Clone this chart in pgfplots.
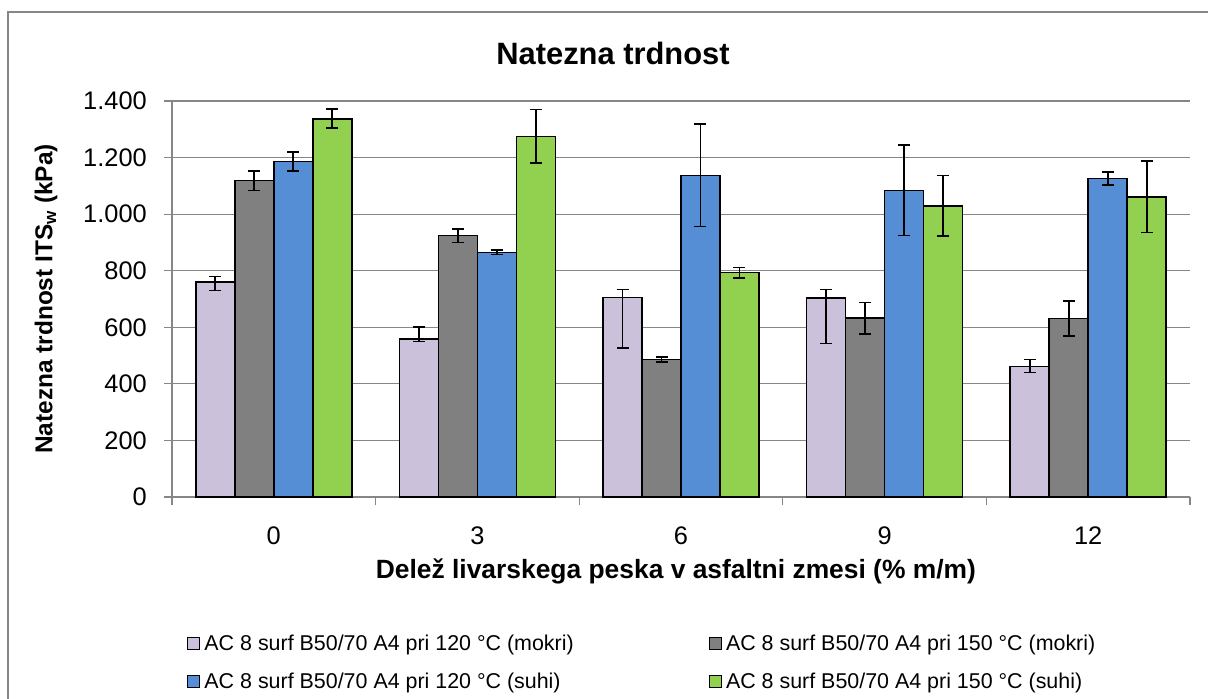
\documentclass[border=0pt]{standalone}
\usepackage{fontspec}
\setmainfont{Liberation Sans}
\usepackage{pgfplots}
\pgfplotsset{compat=1.18}
\usepackage{pgfplotstable}

\definecolor{cLav}{RGB}{204,193,218}
\definecolor{cGray}{RGB}{128,128,128}
\definecolor{cBlue}{RGB}{85,142,213}
\definecolor{cGreen}{RGB}{146,208,80}
\definecolor{cAxis}{RGB}{134,134,134}

\pgfplotstableread{
x y ep em
0 761 18 31
1 559 42 9
2 705 28 179
3 704 29 162
4 461 25 21
}\dataA
\pgfplotstableread{
x y ep em
0 1119 34 35
1 924 24 24
2 486 8 9
3 633 55 56
4 631 62 62
}\dataB
\pgfplotstableread{
x y ep em
0 1186 33 33
1 865 8 7
2 1136 182 179
3 1084 161 160
4 1126 22 22
}\dataC
\pgfplotstableread{
x y ep em
0 1337 35 33
1 1274 96 94
2 794 18 20
3 1028 108 106
4 1061 127 126
}\dataD

\pgfplotsset{
  every error bar/.append style={line width=1.8bp, draw=black},
  myerr/.style={
  error bars/y dir=both, error bars/y explicit,
  error bars/error bar style={line width=1.8bp, draw=black, solid},
  error bars/error mark options={rotate=90, mark size=6bp, line width=1.6bp, draw=black}}}

\begin{document}
\begin{tikzpicture}
\useasboundingbox (0,0) rectangle (1208bp,699bp);
\draw[cAxis, line width=1.5bp] (8bp,0) -- (8bp,687bp) -- (1208bp,687bp);
\node[font=\fontsize{31}{36}\selectfont\bfseries] at (613bp,646bp) {Natezna trdnost};
\begin{axis}[
  at={(172bp,202bp)}, anchor=south west,
  scale only axis, width=1018bp, height=396bp,
  ybar=0pt, bar width=0.1915,
  xmin=-0.5, xmax=4.5, ymin=0, ymax=1400,
  clip=false,
  xtick={0,...,4}, xticklabels={0,3,6,9,12},
  xtick style={draw=none},
  extra x ticks={-0.5,0.5,1.5,2.5,3.5,4.5},
  extra x tick labels={},
  extra x tick style={xtick style={draw=cAxis, line width=1.2bp}, major tick length=8bp},
  ytick={0,200,...,1400},
  ytick style={draw=cAxis, line width=1.2bp},
  tick align=outside, major tick length=8bp,
  ymajorgrids, grid style={draw=cAxis, line width=1.2bp},
  axis x line*=bottom, axis y line*=left,
  axis line style={draw=cAxis, line width=1.2bp, -},
  /pgf/number format/assume math mode=true,
  /pgf/number format/1000 sep={.},
  tick label style={font=\fontsize{25.5}{30}\selectfont},
  yticklabel style={anchor=east, inner sep=0pt, xshift=-17bp},
  xticklabel style={anchor=center, inner sep=0pt, yshift=-31bp},
  xlabel={Delež livarskega peska v asfaltni zmesi (\% m/m)},
  ylabel={Natezna trdnost ITS\textsubscript{w} (kPa)},
  xlabel style={font=\fontsize{26.5}{31}\selectfont\bfseries, at={(axis description cs:0.495,-0.187)}, anchor=center},
  ylabel style={font=\fontsize{24.5}{29}\selectfont\bfseries, at={(axis description cs:-0.1238,0.5)}, anchor=center},
  legend columns=2,
  legend style={at={(0.0147,-0.348)}, anchor=north west, draw=none, fill=none,
    inner sep=0pt, row sep=21bp,
    font=\fontsize{21.5}{25}\selectfont,
    nodes={inner sep=0pt},
    /tikz/every odd column/.append style={column sep=4bp},
    /tikz/every even column/.append style={column sep=135bp}},
  legend cell align=left,
  legend image code/.code={\draw[#1, draw=black, line width=1.3bp] (0bp,-6bp) rectangle (12bp,6bp);},
]
\addplot[fill=cLav, draw=black, line width=1.6bp, myerr] table[x=x, y=y, y error plus=ep, y error minus=em] {\dataA};
\addlegendentry{AC 8 surf B50/70 A4 pri 120 °C (mokri)}
\addplot[fill=cGray, draw=black, line width=1.6bp, myerr] table[x=x, y=y, y error plus=ep, y error minus=em] {\dataB};
\addlegendentry{AC 8 surf B50/70 A4 pri 150 °C (mokri)}
\addplot[fill=cBlue, draw=black, line width=1.6bp, myerr] table[x=x, y=y, y error plus=ep, y error minus=em] {\dataC};
\addlegendentry{AC 8 surf B50/70 A4 pri 120 °C (suhi)}
\addplot[fill=cGreen, draw=black, line width=1.6bp, myerr] table[x=x, y=y, y error plus=ep, y error minus=em] {\dataD};
\addlegendentry{AC 8 surf B50/70 A4 pri 150 °C (suhi)}
\end{axis}
\end{tikzpicture}
\end{document}
